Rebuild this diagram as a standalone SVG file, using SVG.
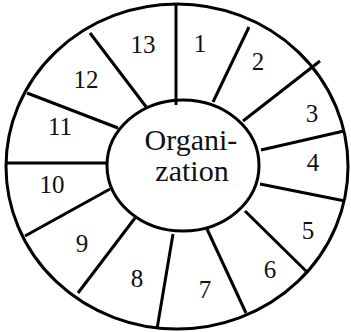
<svg xmlns="http://www.w3.org/2000/svg" width="351" height="332" viewBox="0 0 351 332">
<style>
.ring{fill:none;stroke:#000;stroke-width:3}
.sp{stroke:#000;stroke-width:3;stroke-linecap:butt}
.n{font-family:"Liberation Serif","Times New Roman",serif;font-size:25px;fill:#111;text-anchor:middle}
.c{font-family:"Liberation Serif","Times New Roman",serif;font-size:30px;fill:#111;text-anchor:middle}
</style>
<rect width="351" height="332" fill="#fff"/>
<g id="connectors">
<line class="sp" x1="176" y1="5" x2="176" y2="105"/>
<line class="sp" x1="213" y1="102" x2="249" y2="27"/>
<line class="sp" x1="243" y1="121" x2="320" y2="61"/>
<line class="sp" x1="261" y1="150" x2="344" y2="131"/>
<line class="sp" x1="260" y1="184" x2="345" y2="201"/>
<line class="sp" x1="245" y1="211" x2="308" y2="273"/>
<line class="sp" x1="207" y1="229" x2="246" y2="313"/>
<line class="sp" x1="173" y1="234" x2="157" y2="329"/>
<line class="sp" x1="135" y1="218" x2="78" y2="293"/>
<line class="sp" x1="110" y1="189" x2="25" y2="236"/>
<line class="sp" x1="7" y1="163" x2="106" y2="163"/>
<line class="sp" x1="27" y1="93" x2="118" y2="128"/>
<line class="sp" x1="90" y1="33" x2="147" y2="108"/>
</g>
<g id="outer"><ellipse class="ring" cx="177" cy="166.5" rx="171" ry="162.5"/></g>
<g id="organization">
<ellipse class="ring" cx="183" cy="165.5" rx="76" ry="65.5" fill="#fff"/>
<text class="c" x="191" y="150">Organi-</text>
<text class="c" x="192" y="181">zation</text>
</g>
<g id="labels">
<text id="s1" class="n" x="200" y="52">1</text>
<text id="s2" class="n" x="258" y="70">2</text>
<text id="s3" class="n" x="312" y="122">3</text>
<text id="s4" class="n" x="313" y="171">4</text>
<text id="s5" class="n" x="308" y="239">5</text>
<text id="s6" class="n" x="270" y="278">6</text>
<text id="s7" class="n" x="205" y="298">7</text>
<text id="s8" class="n" x="137" y="287">8</text>
<text id="s9" class="n" x="82" y="252">9</text>
<text id="s10" class="n" x="52" y="193">10</text>
<text id="s11" class="n" x="60" y="135">11</text>
<text id="s12" class="n" x="86" y="88">12</text>
<text id="s13" class="n" x="143" y="53">13</text>
</g>
</svg>
